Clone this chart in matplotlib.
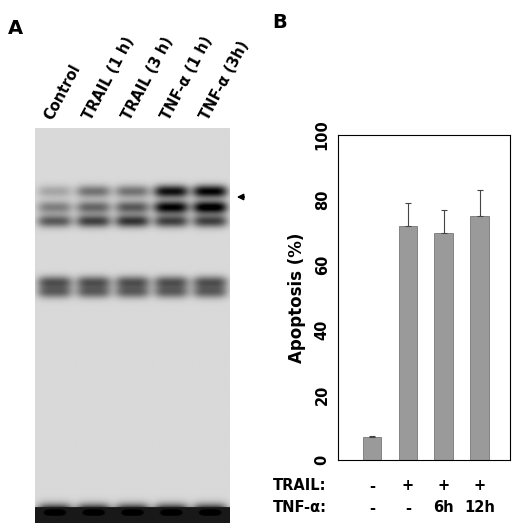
import numpy as np
import matplotlib
matplotlib.use("Agg")
import matplotlib.pyplot as plt

# Panel B data
conditions = ["Control", "TRAIL", "TRAIL+TNF 6h", "TRAIL+TNF 12h"]
apoptosis = [7, 72, 70, 75]
errors = [0.5, 7, 7, 8]
trail_row = ["-", "+", "+", "+"]
tnf_row = ["-", "-", "6h", "12h"]

# Panel A gel: lanes, band positions (fraction of gel height from top), band strengths per lane
lanes = ["Control", "TRAIL (1 h)", "TRAIL (3 h)", "TNF-\u03b1 (1 h)", "TNF-\u03b1 (3h)"]
band_pos = [0.16, 0.20, 0.235, 0.39, 0.415, 0.975]
band_strength = [
    [0.2, 0.35, 0.5, 0.5, 0.45, 0.95],
    [0.4, 0.45, 0.6, 0.5, 0.45, 0.95],
    [0.4, 0.5, 0.65, 0.5, 0.45, 0.95],
    [0.8, 0.85, 0.6, 0.5, 0.45, 0.95],
    [0.85, 0.9, 0.6, 0.5, 0.45, 0.95],
]

W, H = 520, 528
fig = plt.figure(figsize=(W/100, H/100), dpi=100)

def ax_px(x0, y0, x1, y1):
    return fig.add_axes([x0/W, 1-y1/H, (x1-x0)/W, (y1-y0)/H])

# gel
axg = ax_px(35, 128, 230, 523)
nx, ny = 200, 400
img = np.full((ny, nx), 0.15)
ys = np.linspace(0, 1, ny)[:, None]
xs = np.linspace(0, 1, nx)[None, :]
nl = len(lanes)
for i, strengths in enumerate(band_strength):
    cx = (i + 0.5) / nl
    lane = np.exp(-((xs - cx) / 0.09) ** 4)
    for p, s in zip(band_pos, strengths):
        w = 0.016 if p < 0.9 else 0.02
        img = img + s * lane * np.exp(-((ys - p) / w) ** 2)
img[ys[:, 0] > 0.96, :] = np.maximum(img[ys[:, 0] > 0.96, :], 0.9)
img = np.clip(img, 0, 1)
axg.imshow(img, cmap="gray_r", aspect="auto", vmin=0, vmax=1, extent=[0, 1, 1, 0])
axg.set_axis_off()
for i, name in enumerate(lanes):
    fig.text((35 + (i + 0.5) * 195 / nl) / W, 1 - 122 / H, name, rotation=62,
             ha="left", va="bottom", fontsize=10.5, fontweight="bold",
             rotation_mode="anchor")
fig.text(8/W, 1-28/H, "A", fontsize=14, fontweight="bold", va="center")
fig.text(272/W, 1-22/H, "B", fontsize=14, fontweight="bold", va="center")
fig.add_artist(matplotlib.patches.FancyArrowPatch((247/W, 1-197/H), (234/W, 1-197/H),
               transform=fig.transFigure, arrowstyle="-|>", mutation_scale=9, color="black", lw=1.2))

# bar chart
axb = ax_px(338, 135, 510, 460)
x = np.arange(len(conditions))
axb.bar(x, apoptosis, width=0.52, color="#9a9a9a", edgecolor="#666666", linewidth=0.5,
        yerr=[[0]*4, errors], error_kw=dict(ecolor="#444444", capsize=2, elinewidth=0.8, capthick=0.8))
axb.set_xlim(-0.95, 3.85)
axb.set_ylim(0, 100)
axb.set_yticks([0, 20, 40, 60, 80, 100])
axb.set_yticklabels([str(v) for v in [0, 20, 40, 60, 80, 100]], rotation=90, va="center")
axb.tick_params(axis="y", labelsize=10.5, direction="in", length=0, pad=6)
axb.set_xticks([])
axb.set_ylabel("Apoptosis (%)", fontsize=12, fontweight="bold", labelpad=6)
for lab in axb.get_yticklabels():
    lab.set_fontweight("bold")
fig.text(273/W, 1-486/H, "TRAIL:", fontsize=10.5, fontweight="bold", va="center")
fig.text(273/W, 1-508/H, "TNF-\u03b1:", fontsize=10.5, fontweight="bold", va="center")
for i in range(len(conditions)):
    xf = axb.transData.transform((x[i], 0))
    xfig = fig.transFigure.inverted().transform(xf)[0]
    fig.text(xfig, 1-486/H, trail_row[i], ha="center", va="center", fontsize=10.5, fontweight="bold")
    fig.text(xfig, 1-508/H, tnf_row[i], ha="center", va="center", fontsize=10.5, fontweight="bold")

fig.savefig("out.png", dpi=100)
